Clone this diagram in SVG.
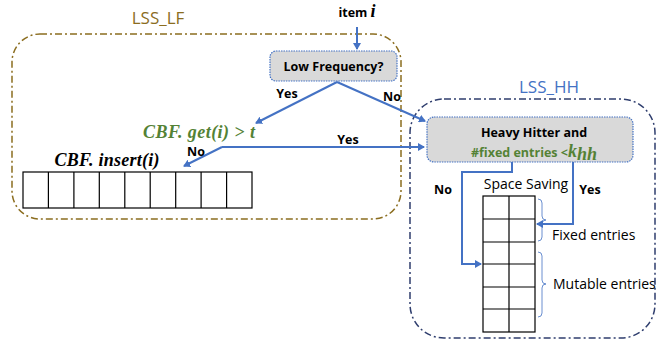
<svg xmlns="http://www.w3.org/2000/svg" width="657" height="345" viewBox="0 0 657 345">
<defs>
<style>
.lbl{font-family:"Open Sans","Liberation Sans",sans-serif;font-weight:bold;font-size:12.5px;fill:#000}
.math{font-family:"Liberation Serif","DejaVu Serif",serif;font-weight:bold;font-style:italic;font-size:18px}
.grp{fill:none;stroke-width:1.5;stroke-dasharray:7 3 2 3}
.dec{fill:#d9d9d9;stroke:#4472c4;stroke-width:1.2;stroke-dasharray:1.5 1}
.conn{fill:none;stroke:#4472c4;stroke-width:2}
.cell{fill:#fff;stroke:#000;stroke-width:1.2}
.brace{fill:none;stroke:#4472c4;stroke-width:0.8}
.plain{font-family:"Open Sans","Liberation Sans",sans-serif;font-size:14px;fill:#000}
</style>
<marker id="ah" markerWidth="8" markerHeight="8" refX="6" refY="4" orient="auto" markerUnits="userSpaceOnUse">
<path d="M0,0 L7,4 L0,8 Z" fill="#4472c4"/>
</marker>
</defs>
<rect width="657" height="345" fill="#fff"/>

<g id="lss_lf">
<rect class="grp" x="12" y="34" width="389" height="185" rx="28" stroke="#8b6d1f"/>
<text x="158" y="24" text-anchor="middle" font-family="'Open Sans','Liberation Sans',sans-serif" font-size="17" fill="#8b6d1f">LSS_LF</text>
</g>

<g id="lss_hh">
<rect class="grp" x="410" y="99" width="245" height="239" rx="34" stroke="#2f3e6e"/>
<text x="549" y="93" text-anchor="middle" font-family="'Open Sans','Liberation Sans',sans-serif" font-size="17" fill="#4472c4">LSS_HH</text>
</g>

<g id="item">
<text x="357" y="17" text-anchor="middle" class="lbl">item <tspan class="math" font-size="15">i</tspan></text>
</g>

<g id="low_frequency">
<rect class="dec" x="270" y="51" width="127" height="30" rx="6"/>
<text x="333.5" y="71" text-anchor="middle" class="lbl" font-size="14">Low Frequency?</text>
</g>

<g id="cbf_get">
<text x="199" y="138" text-anchor="middle" class="math" fill="#548235" textLength="112">CBF. get(i) &gt; t</text>
</g>

<g id="cbf">
<text x="107" y="166" text-anchor="middle" class="math" fill="#000" textLength="105">CBF. insert(i)</text>
<rect class="cell" x="23" y="172" width="229" height="36"/>
<path d="M48.4,172V208M73.9,172V208M99.3,172V208M124.8,172V208M150.2,172V208M175.7,172V208M201.1,172V208M226.6,172V208" stroke="#000" stroke-width="1.2"/>
</g>

<g id="heavy_hitter">
<rect class="dec" x="427" y="117" width="206" height="45" rx="7"/>
<text x="534" y="137" text-anchor="middle" class="lbl" font-size="14">Heavy Hitter and</text>
<text x="534" y="157" text-anchor="middle" class="lbl" font-size="14" style="fill:#548235">#fixed entries &lt;<tspan class="math" font-size="17">k</tspan><tspan class="math" font-size="11" dy="3">hh</tspan></text>
</g>

<g id="space_saving">
<text x="526" y="189" text-anchor="middle" class="plain">Space Saving</text>
<rect class="cell" x="483" y="196" width="52" height="136"/>
<path d="M509,196V332M483,219H535M483,242H535M483,264H535M483,287H535M483,309H535" stroke="#000" stroke-width="1.2"/>
<path class="brace" d="M538,199 Q542,199 542,203 V216 Q542,220 546,220 Q542,220 542,224 V237 Q542,241 538,241"/>
<text x="552" y="240" class="plain">Fixed entries</text>
<path class="brace" d="M538,252 Q542,252 542,256 V280 Q542,284 546,284 Q542,284 542,288 V313 Q542,317 538,317"/>
<text x="553" y="289" class="plain">Mutable entries</text>
</g>

<g id="connectors">
<path class="conn" d="M357,27 V49" marker-end="url(#ah)"/>
<path class="conn" d="M337,82 L256,123" marker-end="url(#ah)"/>
<path class="conn" d="M337,82 L425,121" marker-end="url(#ah)"/>
<path class="conn" d="M222,147 H424" marker-end="url(#ah)"/>
<path class="conn" d="M222,147 L184,166" marker-end="url(#ah)"/>
<path class="conn" d="M512,162 V172 H462 V264 H481" marker-end="url(#ah)"/>
<path class="conn" d="M573,162 V224 H537" marker-end="url(#ah)"/>
<text x="287" y="98" text-anchor="middle" class="lbl">Yes</text>
<text x="392" y="101" text-anchor="middle" class="lbl">No</text>
<text x="348" y="144" text-anchor="middle" class="lbl">Yes</text>
<text x="196" y="156" text-anchor="middle" class="lbl">No</text>
<text x="443" y="194" text-anchor="middle" class="lbl">No</text>
<text x="590" y="194" text-anchor="middle" class="lbl">Yes</text>
</g>
</svg>
